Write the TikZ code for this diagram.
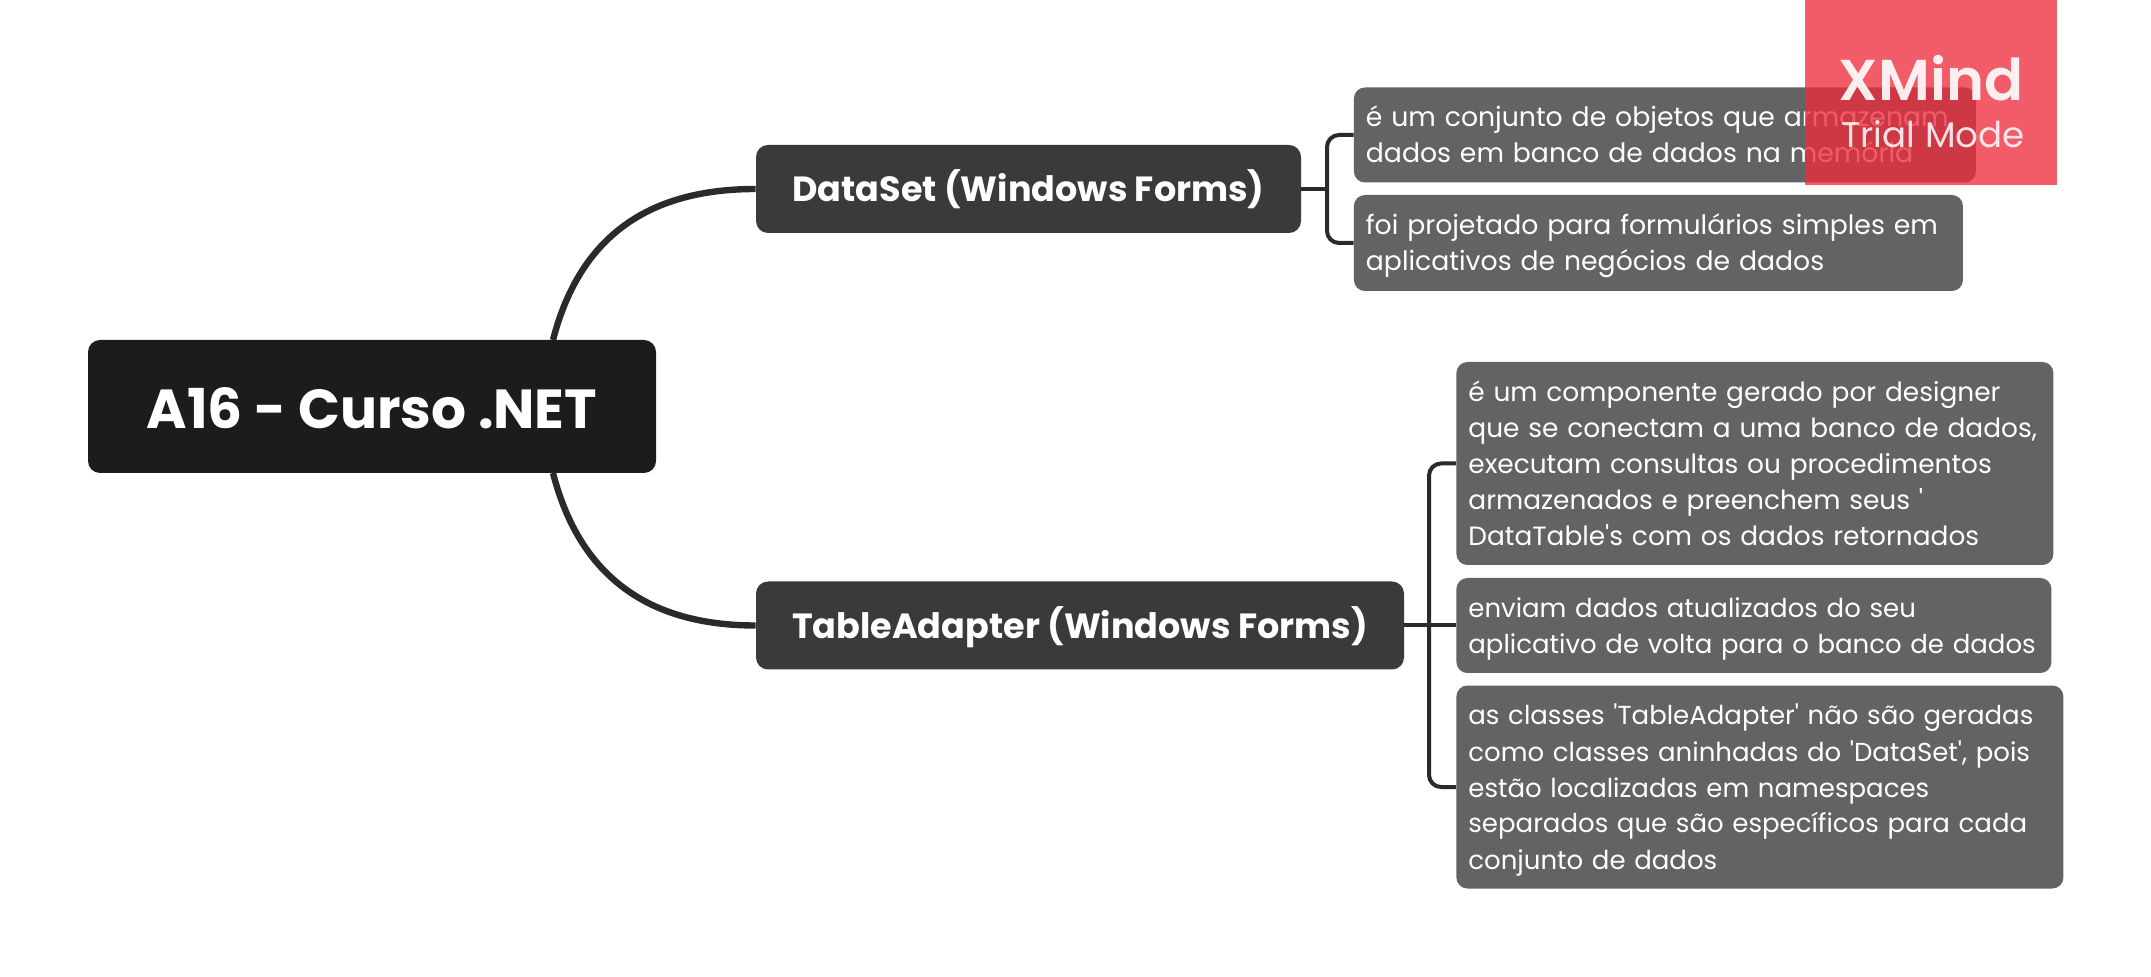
\documentclass[tikz,border=0pt]{standalone}
\usepackage{fontspec}
\setmainfont{Poppins}[Ligatures=TeXOff]
\newfontfamily\markfont{Poppins SemiBold}
\definecolor{rootgray}{HTML}{1C1C1E}
\definecolor{maingray}{HTML}{3A3A3C}
\definecolor{kidgray}{HTML}{636366}
\definecolor{linegray}{HTML}{2A2A2C}
\definecolor{markred}{RGB}{238,44,60}
\tikzset{
  rootbox/.style={fill=rootgray,text=white,rounded corners=6pt,minimum width=284pt,minimum height=66.5pt,text height=24.5pt,text depth=2.8pt,font=\fontsize{27.5}{32}\selectfont\bfseries},
  mainbox/.style={fill=maingray,text=white,rounded corners=6pt,minimum height=44pt,text height=15.6pt,text depth=3pt,font=\fontsize{17.5}{20}\selectfont\bfseries},
  kidbox/.style={fill=kidgray,text=white,rounded corners=5.5pt,anchor=west,inner xsep=6pt,inner ysep=0pt,align=left,text width=#1,font=\fontsize{13.2}{18}\selectfont,execute at begin node=\rule{0pt}{15.4pt},execute at end node=\strut},
  bigline/.style={draw=linegray,line width=3.2pt},
  kidline/.style={draw=linegray,line width=2pt,rounded corners=6pt}
}
\begin{document}
\begin{tikzpicture}[x=0.5pt,y=-0.5pt]
\useasboundingbox (0,0) rectangle (2151,977);
\node (root) [rootbox] at (372,406.5) {A16 - Curso .NET};
\node (dataset) [mainbox,minimum width=272.5pt] at (1028.5,189) {DataSet (Windows Forms)};
\node (adapter) [mainbox,minimum width=324pt] at (1080,625.5) {TableAdapter (Windows Forms)};
\node (kidA) [kidbox=299pt,minimum height=47.5pt,font=\fontsize{13.35}{18}\selectfont] at (1353.5,135) {é um conjunto de objetos que armazenam\\dados em banco de dados na memória};
\node (kidB) [kidbox=292.5pt,minimum height=48pt,font=\fontsize{13.35}{18}\selectfont] at (1353.5,243) {foi projetado para formulários simples em\\aplicativos de negócios de dados};
\node (kidC) [kidbox=286.5pt,minimum height=101.5pt] at (1456,463.5) {é um componente gerado por designer\\que se conectam a uma banco de dados,\\executam consultas ou procedimentos\\armazenados e preenchem seus '\\DataTable's com os dados retornados};
\node (kidD) [kidbox=285.5pt,minimum height=47.5pt,font=\fontsize{13}{18}\selectfont] at (1456,625.5) {enviam dados atualizados do seu\\aplicativo de volta para o banco de dados};
\node (kidE) [kidbox=291.5pt,minimum height=101.5pt,font=\fontsize{13}{18}\selectfont] at (1456,787) {as classes 'TableAdapter' não são geradas\\como classes aninhadas do 'DataSet', pois\\estão localizadas em namespaces\\separados que são específicos para cada\\conjunto de dados};
\coordinate (rootup) at (553,340);
\coordinate (rootdown) at (553,473);
\coordinate (spineA) at (1327,189);
\coordinate (spineB) at (1429,625.5);
\draw[bigline] (rootup) .. controls (580,235) and (650,189) .. (dataset.west);
\draw[bigline] (rootdown) .. controls (580,578) and (650,625.5) .. (adapter.west);
\draw[kidline] (dataset.east) -- (spineA);
\draw[kidline] (kidA.west) -| (spineA) |- (kidB.west);
\draw[kidline] (adapter.east) -- (kidD.west);
\draw[kidline] (kidC.west) -| (spineB) |- (kidE.west);
% trial mark
\node (mark) [fill=markred,fill opacity=.775,minimum width=126pt,minimum height=92.5pt,anchor=north west,inner sep=0pt] at (1805,0) {};
\node (markA) [text=white,text opacity=.9,font=\fontsize{28.8}{34}\markfont,inner sep=0pt] at (1931,78) {XMind};
\node (markB) [text=white,text opacity=.85,font=\fontsize{17.8}{22}\selectfont,inner sep=0pt] at (1933,134) {Trial Mode};
\end{tikzpicture}
\end{document}
